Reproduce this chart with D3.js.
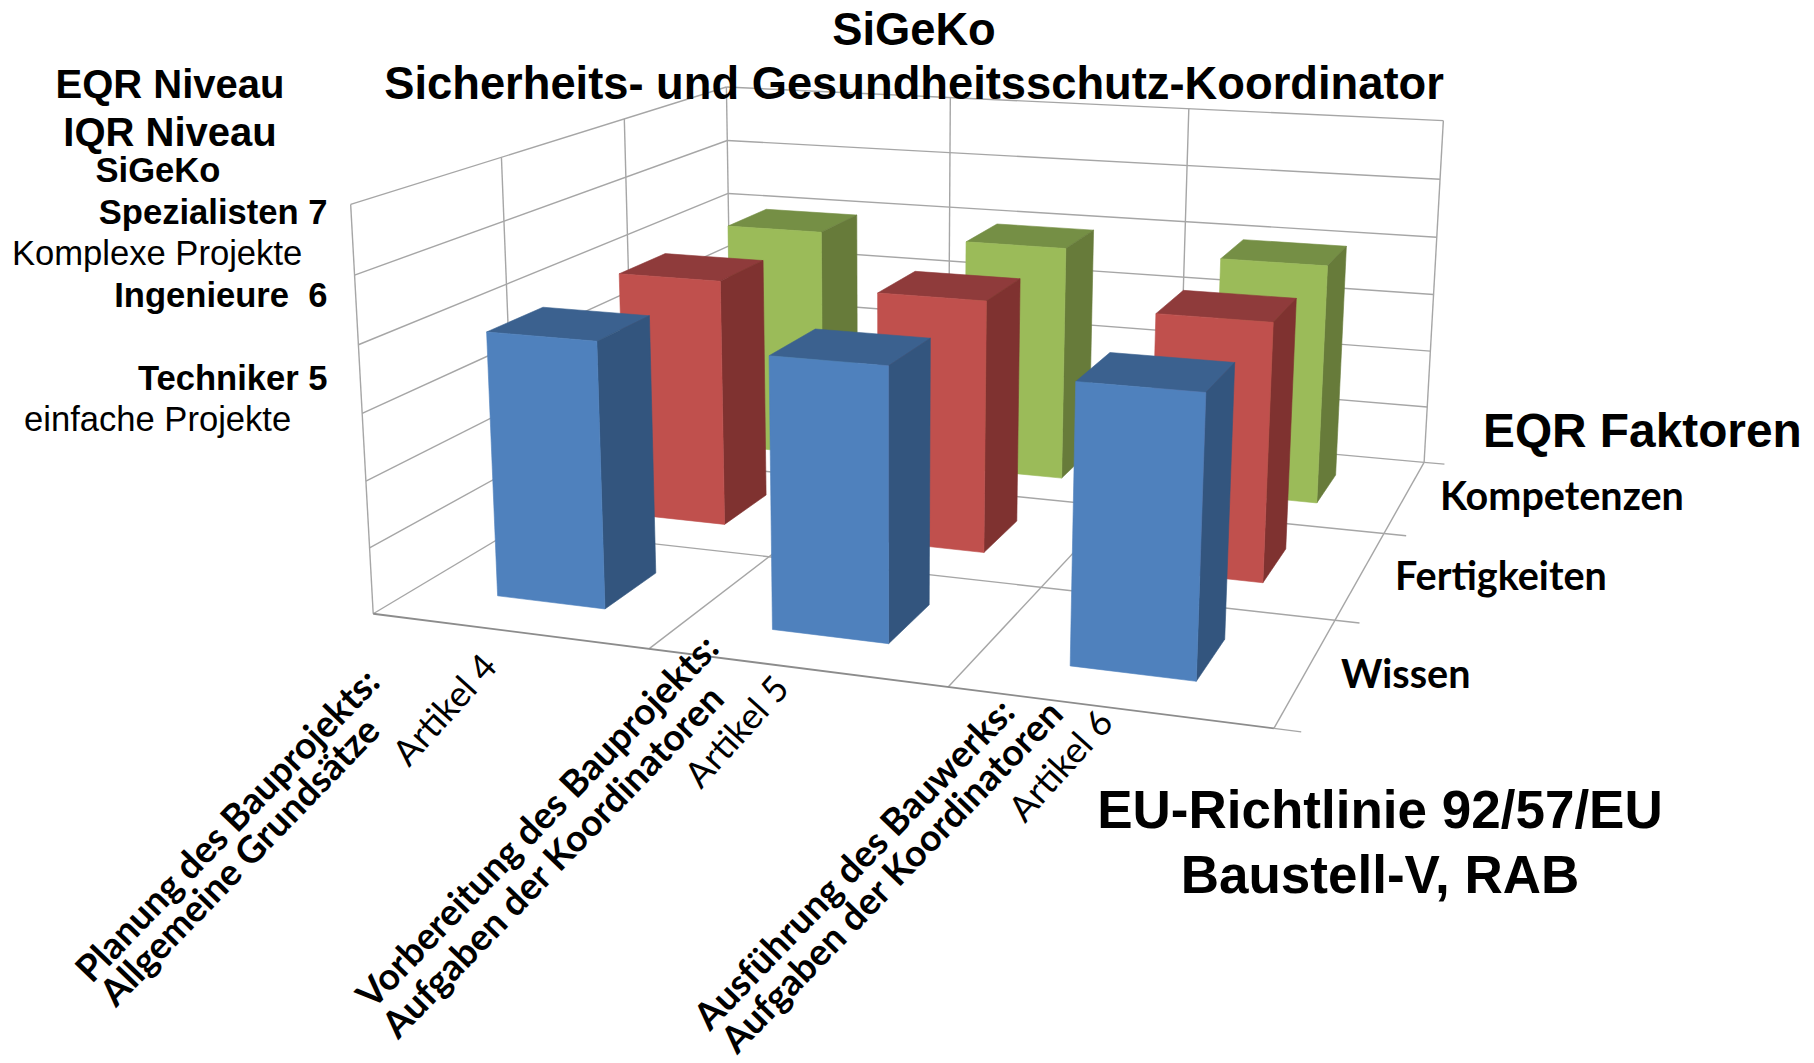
<!DOCTYPE html>
<html><head><meta charset="utf-8">
<script src="https://cdn.jsdelivr.net/npm/d3@7"></script>
<style>html,body{margin:0;padding:0;background:#fff}svg{display:block}</style>
</head><body><svg id="c" width="1814" height="1063"></svg>
<script>
// ---- data ----
const articles = ["Artikel 4","Artikel 5","Artikel 6"];
const categoryLine1 = ["Planung des Bauprojekts:","Vorbereitung des Bauprojekts:","Ausführung des Bauwerks:"];
const categoryLine2 = ["Allgemeine Grundsätze","Aufgaben der Koordinatoren","Aufgaben der Koordinatoren"];
const seriesNames = ["Wissen","Fertigkeiten","Kompetenzen"];
const wissen = [5,5,5];
const fertigkeiten = [5,5,5];
const kompetenzen = [5,5,5];
const valueTicks = [1,2,3,4,5,6,7];
const seriesValues = [wissen,fertigkeiten,kompetenzen];
const faceColors = ["#4f81bd","#c0504d","#9bbb59"];
const sideColors = ["#33557e","#7f3230","#677b3a"];
const topColors  = ["#3b618f","#8f3b3b","#758f45"];

// ---- perspective calibration: chart-box (u,v,w) -> page pixels ----
const calib = [
 [0,0,6,350,205],[0,0,3,363,413],[0,0,0,372.5,612],
 [1,0,0,650,648],[2,0,0,948,687],[3,0,0,1273,730.5],
 [3,1,0,1336,621],[3,2,0,1384,532],[3,3,0,1424,461],
 [3,3,6,1443,121],[1,3,6,950,97],[2,3,6,1189,109.5],[0,3,6,727,86],
 [0,3,0,731,402],[0,1,6,500.7,158.5],[0,2,6,625,118]
];
function solve(A,b){const n=b.length;const M=A.map((r,i)=>[...r,b[i]]);
 for(let i=0;i<n;i++){let p=i;for(let k=i+1;k<n;k++)if(Math.abs(M[k][i])>Math.abs(M[p][i]))p=k;
  [M[i],M[p]]=[M[p],M[i]];
  for(let k=0;k<n;k++){if(k===i)continue;const f=M[k][i]/M[i][i];for(let j=i;j<=n;j++)M[k][j]-=f*M[i][j];}}
 return M.map((r,i)=>r[n]/r[i]);}
function fit(){const rows=[],rhs=[];
 calib.forEach(([u,v,w,x,y])=>{
  rows.push([u,v,w,1,0,0,0,0,-x*u,-x*v,-x*w]);rhs.push(x);
  rows.push([0,0,0,0,u,v,w,1,-y*u,-y*v,-y*w]);rhs.push(y);});
 const n=11,A=d3.range(n).map(i=>d3.range(n).map(j=>d3.sum(rows,r=>r[i]*r[j]))),
  b=d3.range(n).map(i=>d3.sum(rows,(r,k)=>r[i]*rhs[k]));
 return solve(A,b);}
const P=fit();
function proj(u,v,w){const d=P[8]*u+P[9]*v+P[10]*w+1;
 return [(P[0]*u+P[1]*v+P[2]*w+P[3])/d,(P[4]*u+P[5]*v+P[6]*w+P[7])/d];}

const xScale=d3.scaleBand().domain(articles).range([0,3]).paddingInner(0.6).paddingOuter(0.3);
const yScale=d3.scaleBand().domain(seriesNames).range([0,3]).paddingInner(0.6).paddingOuter(0.3);
const zScale=d3.scaleLinear().domain([1,7]).range([0,6]);

const svg=d3.select("#c");
const line=d3.line();
const grid=svg.append("g").attr("fill","none").attr("stroke","#a6a6a6").attr("stroke-width",1.4);
function seg(a,b,col,w){grid.append("path").attr("d",line([proj(...a),proj(...b)]))
  .attr("stroke",col||null).attr("stroke-width",w||null);}
valueTicks.forEach(t=>{const w=zScale(t);
  if(t>1){seg([0,0,w],[0,3,w]);seg([0,3,w],[3,3,w]);}});
seg([0,0,0],[0,0,6]);seg([0,3,0],[0,3,6]);seg([3,3,0],[3,3,6]);
[1,2].forEach(i=>{seg([0,i,0],[0,i,6]);seg([i,3,0],[i,3,6]);
  seg([i,0,0],[i,3,0]);seg([0,i,0],[3,i,0]);});
seg([0,3,0],[3,3,0]);seg([0,0,0],[0,3,0]);
seg([3,0,0],[3,3,0]);seg([0,0,0],[3,0,0],"#8c8c8c",1.8);
// tick stubs on the depth axis
[0,1,2,3].forEach(i=>seg([3,i,0],[3.08,i,0]));

// bars, back row first
const bars=svg.append("g");
[2,1,0].forEach(s=>{
 articles.forEach((a,c)=>{
  const u0=xScale(a),u1=u0+xScale.bandwidth(),v0=yScale(seriesNames[s]),v1=v0+yScale.bandwidth(),
        w0=zScale(1),w1=zScale(seriesValues[s][c]);
  const poly=(pts,col)=>bars.append("polygon").attr("points",pts.map(p=>proj(...p).join(",")).join(" "))
     .attr("fill",col).attr("stroke",col).attr("stroke-width",0.6);
  poly([[u0,v1,w1],[u1,v1,w1],[u1,v0,w1],[u0,v0,w1]],topColors[s]);
  poly([[u1,v0,w0],[u1,v1,w0],[u1,v1,w1],[u1,v0,w1]],sideColors[s]);
  poly([[u0,v0,w0],[u1,v0,w0],[u1,v0,w1],[u0,v0,w1]],faceColors[s]);
 });
});

// ---- text ----
const arial='"Liberation Sans",Arial,sans-serif', lato='Lato,sans-serif';
function txt(s,x,y,size,o={}){return svg.append("text").text(s).attr("x",x).attr("y",y)
 .attr("font-family",o.f||arial).attr("font-size",size).attr("font-weight",o.w||"bold")
 .attr("text-anchor",o.a||"start").attr("fill","#000").style("white-space","pre")
 .attr("transform",o.r?`rotate(${o.r} ${x} ${y})`:null);}
txt("SiGeKo",914,45,45.3,{a:"middle"});
txt("Sicherheits- und Gesundheitsschutz-Koordinator",914,99,45.3,{a:"middle"});
txt("EQR Niveau",170,98,40,{a:"middle"});
txt("IQR Niveau",170,146,40,{a:"middle"});
txt("SiGeKo",158,182,34.6,{a:"middle"});
txt("Spezialisten 7",327.5,224,34.6,{a:"end"});
txt("Komplexe Projekte",12,265,34.6,{w:"normal"});
txt("Ingenieure  6",327.5,307,34.6,{a:"end"});
txt("Techniker 5",327.5,390,34.6,{a:"end"});
txt("einfache Projekte",24,431,34.6,{w:"normal"});
txt("EQR Faktoren",1483,447,47.8);
txt(seriesNames[2],1440,510,39.5,{f:lato});
txt(seriesNames[1],1395,590,39.5,{f:lato});
txt(seriesNames[0],1341,688,39.5,{f:lato});
txt("EU-Richtlinie 92/57/EU",1380,828,53,{a:"middle"});
txt("Baustell-V, RAB",1380,893,53,{a:"middle"});
// rotated category labels: end of each line
const line1End=[[382,684],[721,650],[1017,714]];
const line2End=[[382,733],[726,701],[1065,716]];
const artEnd=[[499,668],[791,690],[1115,724]];
articles.forEach((a,i)=>{
 txt(categoryLine1[i],line1End[i][0],line1End[i][1],37.2,{f:lato,a:"end",r:-46});
 txt(categoryLine2[i],line2End[i][0],line2End[i][1],37.2,{f:lato,a:"end",r:-46});
 txt(a,artEnd[i][0],artEnd[i][1],36,{f:lato,a:"end",w:400,r:-48});
});
</script></body></html>
